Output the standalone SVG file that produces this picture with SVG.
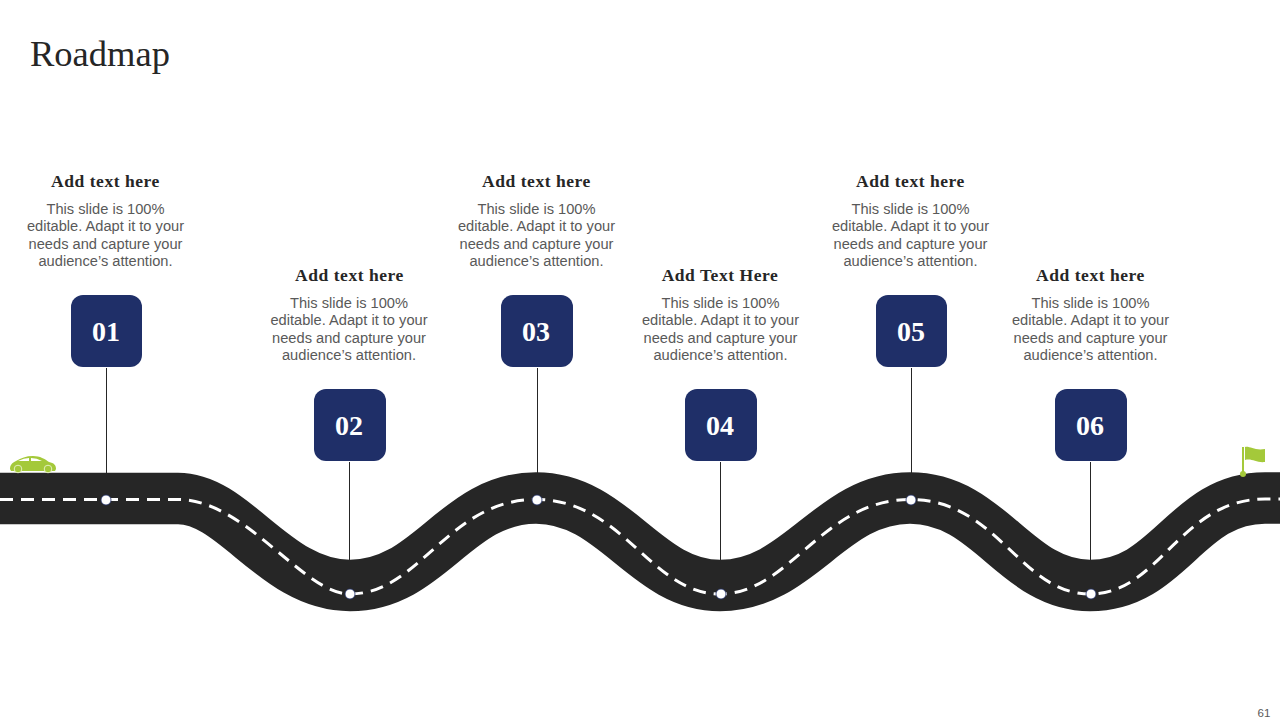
<svg xmlns="http://www.w3.org/2000/svg" width="1280" height="720" viewBox="0 0 1280 720">
<style>
.title{font:36.500px "Liberation Serif",serif;fill:#262626}
.head{font:bold 17.500px "Liberation Serif",serif;fill:#262626;text-anchor:middle;letter-spacing:.55px}
.body{font:14.650px "Liberation Sans",sans-serif;fill:#595959;text-anchor:middle}
.num{font:bold 28px "Liberation Serif",serif;fill:#fff;text-anchor:middle}
.box{fill:#1f2f68}
.lead{stroke:#262626;stroke-width:1;fill:none}
.dot{fill:#fff;stroke:#1f2f68;stroke-width:.8}
.road{fill:none;stroke:#262626;stroke-width:51.500}
.dash{fill:none;stroke:#fff;stroke-width:3;stroke-dasharray:13 8}
.green{fill:#a4c93a}
</style>
<rect width="1280" height="720" fill="#fff"/>
<text class="title" x="30" y="66">Roadmap</text>
<g id="road">
<path class="road" d="M-5 498.500H178C235 498.500 275 585.500 350 585.500C430 585.500 455 498 536 498C615 498 645 585.500 720 585.500C800 585.500 830 498 910 498C990 498 1015 585.500 1090 585.500C1170 585.500 1185 498 1265 498H1285"/>
<path class="dash" d="M0 499.500H178C246 499.500 303 594 350 594C420 594 448 499.500 536 499.500C624 499.500 650 594 720 594C790 594 822 499.500 910 499.500C998 499.500 1020 594 1090 594C1160 594 1180 499 1265 499H1285"/>
</g>
<g id="connectors">
<path class="lead" d="M106.500 368V499M349.500 462V562M537.500 368V473M720.500 462V562M911.500 368V473M1090.500 462V562"/>
</g>
<g id="car"><path class="green" d="M10 469C10 465 12 463 16 461C21 458 26 456 33 456C40 456 45 459 49 462C54 463 56 465 56 469L55 471H11Z"/><circle cx="18" cy="469" r="3.800" fill="#a4c93a" stroke="#e4efc0"/><circle cx="48" cy="469" r="3.800" fill="#a4c93a" stroke="#e4efc0"/><path d="M18 461Q24 458 29 458V461ZM31 458Q37 458 42 461H31Z" fill="#fff"/></g>
<g id="flag"><rect class="green" x="1242" y="447" width="2" height="26"/><circle class="green" cx="1243" cy="474" r="3"/><path class="green" d="M1245 447C1250 446 1255 451 1265 449V462C1256 463 1252 458 1245 460Z"/></g>
<g id="node-01"><rect class="box" x="71" y="295" width="71" height="72" rx="12"/><text class="num" x="106" y="341">01</text><text class="head" x="105.500" y="186.500">Add text here</text><text class="body"><tspan x="105.500" y="214">This slide is 100%</tspan><tspan x="105.500" y="231">editable. Adapt it to your</tspan><tspan x="105.500" y="249">needs and capture your</tspan><tspan x="105.500" y="266">audience’s attention.</tspan></text><circle class="dot" cx="106" cy="500" r="5"/></g>
<g id="node-02"><rect class="box" x="314" y="389" width="72" height="72" rx="12"/><text class="num" x="349" y="435">02</text><text class="head" x="349.500" y="280.500">Add text here</text><text class="body"><tspan x="349" y="308">This slide is 100%</tspan><tspan x="349" y="325">editable. Adapt it to your</tspan><tspan x="349" y="343">needs and capture your</tspan><tspan x="349" y="360">audience’s attention.</tspan></text><circle class="dot" cx="350" cy="594" r="5"/></g>
<g id="node-03"><rect class="box" x="501" y="295" width="72" height="72" rx="12"/><text class="num" x="536" y="341">03</text><text class="head" x="536.500" y="186.500">Add text here</text><text class="body"><tspan x="536.500" y="214">This slide is 100%</tspan><tspan x="536.500" y="231">editable. Adapt it to your</tspan><tspan x="536.500" y="249">needs and capture your</tspan><tspan x="536.500" y="266">audience’s attention.</tspan></text><circle class="dot" cx="537" cy="500" r="5"/></g>
<g id="node-04"><rect class="box" x="685" y="389" width="72" height="72" rx="12"/><text class="num" x="720" y="435">04</text><text class="head" x="720" y="280.500">Add Text Here</text><text class="body"><tspan x="720.500" y="308">This slide is 100%</tspan><tspan x="720.500" y="325">editable. Adapt it to your</tspan><tspan x="720.500" y="343">needs and capture your</tspan><tspan x="720.500" y="360">audience’s attention.</tspan></text><circle class="dot" cx="721" cy="594" r="5"/></g>
<g id="node-05"><rect class="box" x="876" y="295" width="71" height="72" rx="12"/><text class="num" x="911" y="341">05</text><text class="head" x="910.500" y="186.500">Add text here</text><text class="body"><tspan x="910.500" y="214">This slide is 100%</tspan><tspan x="910.500" y="231">editable. Adapt it to your</tspan><tspan x="910.500" y="249">needs and capture your</tspan><tspan x="910.500" y="266">audience’s attention.</tspan></text><circle class="dot" cx="911" cy="500" r="5"/></g>
<g id="node-06"><rect class="box" x="1055" y="389" width="72" height="72" rx="12"/><text class="num" x="1090" y="435">06</text><text class="head" x="1090.500" y="280.500">Add text here</text><text class="body"><tspan x="1090.500" y="308">This slide is 100%</tspan><tspan x="1090.500" y="325">editable. Adapt it to your</tspan><tspan x="1090.500" y="343">needs and capture your</tspan><tspan x="1090.500" y="360">audience’s attention.</tspan></text><circle class="dot" cx="1091" cy="594" r="5"/></g>
<text x="1264" y="717" font-family="Liberation Sans, sans-serif" font-size="11.500" fill="#595959" text-anchor="middle">61</text>
</svg>
